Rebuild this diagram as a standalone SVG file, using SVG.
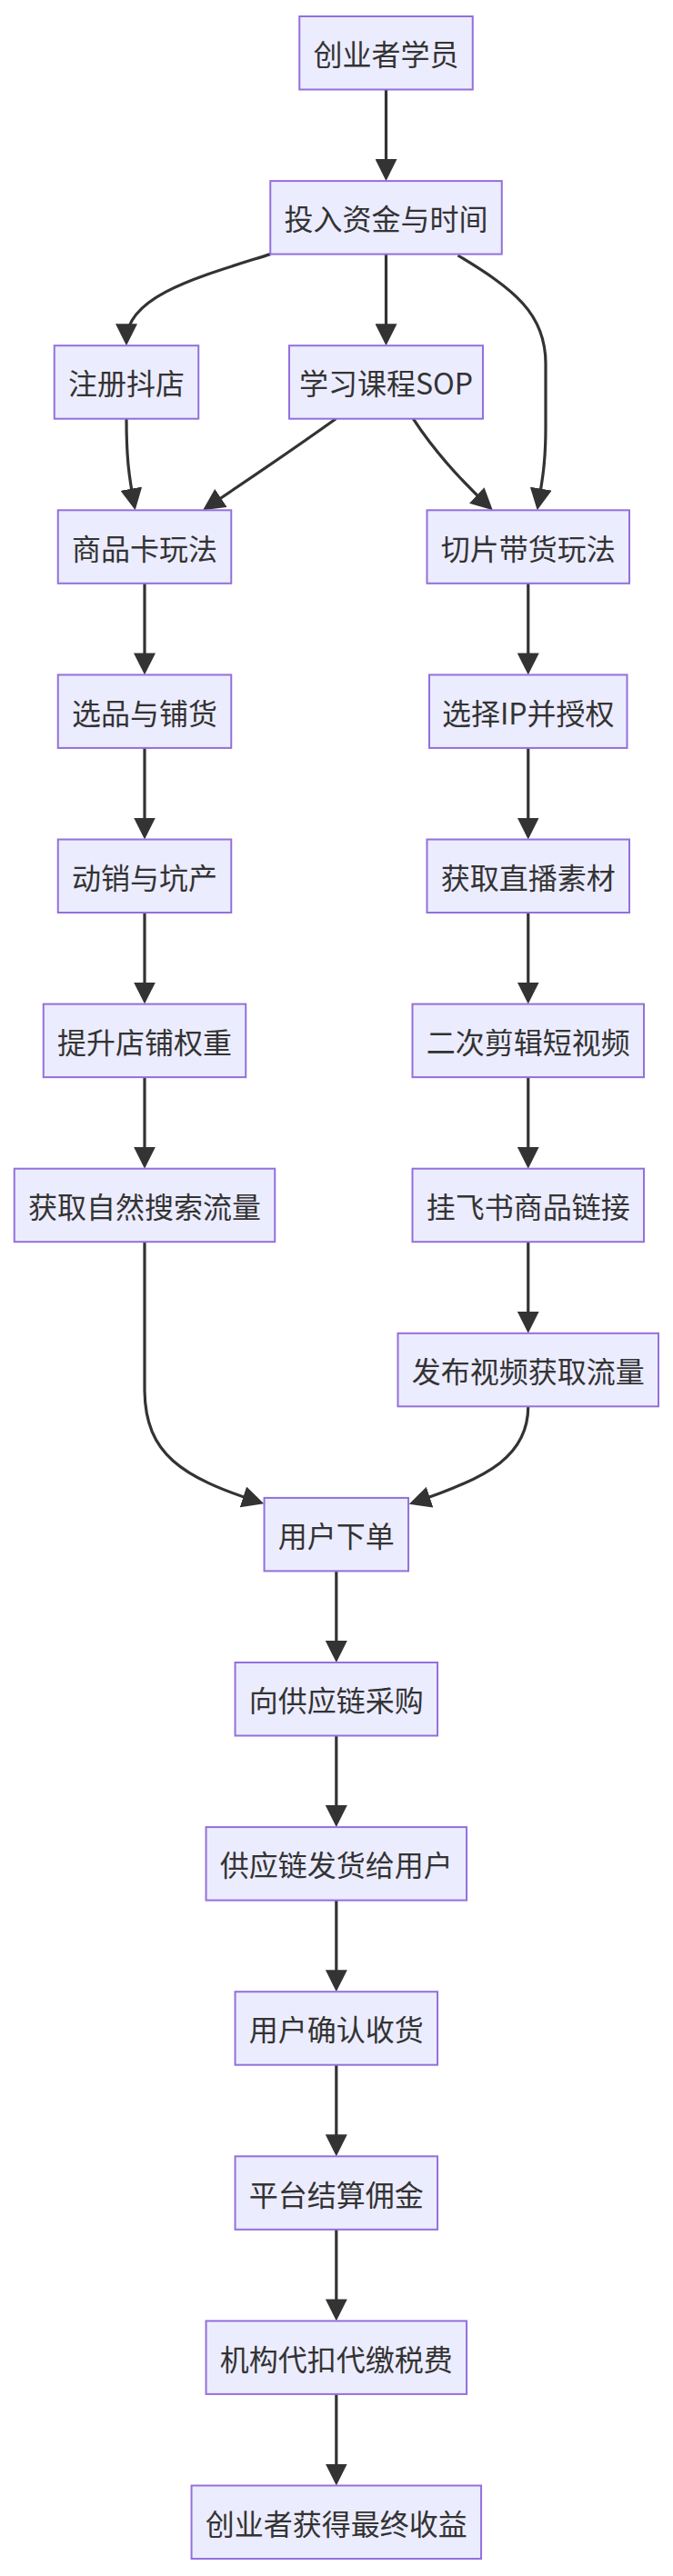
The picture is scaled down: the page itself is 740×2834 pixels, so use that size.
<svg xmlns="http://www.w3.org/2000/svg" width="740" height="2834" viewBox="0 0 740 2834">
<defs>
<style>
.node rect{fill:#ECECFF;stroke:#9370DB;stroke-width:2}
.node text{font-family:"Noto Sans CJK SC","Liberation Sans",sans-serif;font-size:32px;fill:#333333;text-anchor:middle;dominant-baseline:central}
.edges path{fill:none;stroke:#333333;stroke-width:3.2;marker-end:url(#arrow)}
</style>
<marker id="arrow" viewBox="0 0 10 10" refX="7.5" refY="5" markerUnits="userSpaceOnUse" markerWidth="24" markerHeight="24" orient="auto">
<path d="M0,0 L10,5 L0,10 z" fill="#333333"/>
</marker>
</defs>
<rect width="740" height="2834" fill="#ffffff"/>
<g class="edges">
<path d="M424.5,98.5 V193.1"/>
<path d="M424.5,279.6 V374.2"/>
<path d="M297.25,279.6 C220,304 139,325 139,374.2"/>
<path d="M503.5,281 C565,318 600,345 600,400 L600,470 C600,510 596,530 591.7,555.4"/>
<path d="M139,460.7 C139,505 142,525 147.6,555.4"/>
<path d="M369.3,460.7 Q310,503 228,557.9"/>
<path d="M454.3,460.7 Q485,508 537.4,557.2"/>
<path d="M159,641.8 V736.4"/>
<path d="M159,822.9 V917.5"/>
<path d="M159,1004 V1098.6"/>
<path d="M159,1185.1 V1279.7"/>
<path d="M580.75,641.8 V736.4"/>
<path d="M580.75,822.9 V917.5"/>
<path d="M580.75,1004 V1098.6"/>
<path d="M580.75,1185.1 V1279.7"/>
<path d="M580.75,1366.2 V1460.8"/>
<path d="M159,1366.2 L159,1530 C160,1600 200,1625 284.5,1652.5"/>
<path d="M580.75,1547.3 C580.75,1600 540,1625 455.5,1652.8"/>
<path d="M369.8,1728.4 V1823"/>
<path d="M369.8,1909.5 V2004.1"/>
<path d="M369.8,2090.6 V2185.2"/>
<path d="M369.8,2271.7 V2366.3"/>
<path d="M369.8,2452.8 V2547.4"/>
<path d="M369.8,2633.9 V2728.5"/>
</g>
<g id="n1" class="node"><rect x="329.25" y="18" width="190.5" height="80.5"/><text x="424.5" y="58.25">创业者学员</text></g>
<g id="n2" class="node"><rect x="297.25" y="199.1" width="254.5" height="80.5"/><text x="424.5" y="239.35">投入资金与时间</text></g>
<g id="n3" class="node"><rect x="59.75" y="380.2" width="158.5" height="80.5"/><text x="139" y="420.45">注册抖店</text></g>
<g id="n4" class="node"><rect x="318" y="380.2" width="213" height="80.5"/><text x="424.5" y="420.45">学习课程SOP</text></g>
<g id="n5" class="node"><rect x="63.75" y="561.3" width="190.5" height="80.5"/><text x="159" y="601.55">商品卡玩法</text></g>
<g id="n6" class="node"><rect x="469.5" y="561.3" width="222.5" height="80.5"/><text x="580.75" y="601.55">切片带货玩法</text></g>
<g id="n7" class="node"><rect x="63.75" y="742.4" width="190.5" height="80.5"/><text x="159" y="782.65">选品与铺货</text></g>
<g id="n8" class="node"><rect x="472" y="742.4" width="217.5" height="80.5"/><text x="580.75" y="782.65">选择IP并授权</text></g>
<g id="n9" class="node"><rect x="63.75" y="923.5" width="190.5" height="80.5"/><text x="159" y="963.75">动销与坑产</text></g>
<g id="n10" class="node"><rect x="469.5" y="923.5" width="222.5" height="80.5"/><text x="580.75" y="963.75">获取直播素材</text></g>
<g id="n11" class="node"><rect x="47.75" y="1104.6" width="222.5" height="80.5"/><text x="159" y="1144.85">提升店铺权重</text></g>
<g id="n12" class="node"><rect x="453.5" y="1104.6" width="254.5" height="80.5"/><text x="580.75" y="1144.85">二次剪辑短视频</text></g>
<g id="n13" class="node"><rect x="15.75" y="1285.7" width="286.5" height="80.5"/><text x="159" y="1325.95">获取自然搜索流量</text></g>
<g id="n14" class="node"><rect x="453.5" y="1285.7" width="254.5" height="80.5"/><text x="580.75" y="1325.95">挂飞书商品链接</text></g>
<g id="n15" class="node"><rect x="437.5" y="1466.8" width="286.5" height="80.5"/><text x="580.75" y="1507.05">发布视频获取流量</text></g>
<g id="n16" class="node"><rect x="290.55" y="1647.9" width="158.5" height="80.5"/><text x="369.8" y="1688.15">用户下单</text></g>
<g id="n17" class="node"><rect x="258.55" y="1829" width="222.5" height="80.5"/><text x="369.8" y="1869.25">向供应链采购</text></g>
<g id="n18" class="node"><rect x="226.55" y="2010.1" width="286.5" height="80.5"/><text x="369.8" y="2050.35">供应链发货给用户</text></g>
<g id="n19" class="node"><rect x="258.55" y="2191.2" width="222.5" height="80.5"/><text x="369.8" y="2231.45">用户确认收货</text></g>
<g id="n20" class="node"><rect x="258.55" y="2372.3" width="222.5" height="80.5"/><text x="369.8" y="2412.55">平台结算佣金</text></g>
<g id="n21" class="node"><rect x="226.55" y="2553.4" width="286.5" height="80.5"/><text x="369.8" y="2593.65">机构代扣代缴税费</text></g>
<g id="n22" class="node"><rect x="210.55" y="2734.5" width="318.5" height="80.5"/><text x="369.8" y="2774.75">创业者获得最终收益</text></g>
</svg>
